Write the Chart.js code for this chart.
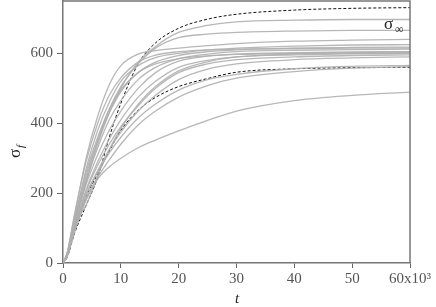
<!DOCTYPE html>
<html>
<head>
<meta charset="UTF-8">
<title>sigma_f vs t</title>
<style>
  body { margin: 0; background: #fff; }
  #wrap { width: 436px; height: 307px; }
</style>
<script src="https://cdn.jsdelivr.net/npm/chart.js"></script>
</head>
<body>
<div id="wrap"><canvas id="chart" width="436" height="307"></canvas></div>
<script>
// time in units of 10^3
const times = [0, 0.7, 2, 4, 6, 8, 10, 13, 16, 20, 25, 30, 40, 50, 60];
const xTicks = [0, 10, 20, 30, 40, 50, 60];
const yTicks = [0, 200, 400, 600];

// the two dashed (reference) curves
const dashedUpper = [0, 15, 85, 165, 245, 360, 457, 570, 630, 672, 698, 712, 724, 729, 731];
const dashedLower = [0, 18, 90, 190, 255, 320, 380, 437, 474, 505, 528, 546, 556, 559, 560];

// grey sample curves
const grey1  = [0, 22, 105, 230, 340, 430, 500, 575, 620, 660, 680, 690, 695, 697, 697];
const grey2  = [0, 22, 110, 240, 350, 440, 505, 570, 615, 645, 655, 660, 664, 666, 666];
const grey3  = [0, 28, 135, 300, 420, 510, 565, 598, 608, 615, 622, 628, 635, 638, 640];
const grey4  = [0, 25, 120, 270, 380, 460, 520, 565, 588, 600, 610, 615, 621, 624, 625];
const grey5  = [0, 25, 115, 250, 350, 430, 490, 545, 575, 594, 605, 610, 615, 617, 618];
const grey6  = [0, 22, 110, 235, 330, 410, 465, 525, 560, 585, 598, 605, 609, 611, 612];
const grey7  = [0, 22, 115, 225, 310, 380, 435, 500, 545, 578, 592, 598, 602, 604, 605];
const grey8  = [0, 20, 100, 210, 290, 355, 410, 475, 520, 560, 580, 590, 596, 599, 600];
const grey9  = [0, 20, 100, 205, 280, 340, 390, 450, 500, 545, 570, 582, 590, 594, 596];
const grey10 = [0, 20, 95, 195, 265, 325, 375, 435, 480, 525, 555, 570, 582, 587, 590];
const grey11 = [0, 25, 125, 260, 360, 440, 495, 545, 570, 585, 593, 597, 600, 601, 602];
const grey12 = [0, 20, 95, 195, 260, 315, 360, 415, 455, 495, 525, 540, 556, 563, 566];
const grey13 = [0, 18, 90, 185, 245, 295, 340, 395, 435, 475, 508, 529, 548, 558, 562];
const grey14 = [0, 18, 90, 180, 240, 275, 300, 330, 352, 378, 408, 435, 465, 480, 489];
const grey15 = [0, 28, 140, 290, 400, 480, 530, 575, 595, 605, 610, 612, 614, 615, 615];
const grey16 = [0, 20, 110, 165, 250, 325, 385, 455, 505, 550, 576, 590, 598, 602, 604];

const greys = [grey1, grey2, grey3, grey4, grey5, grey6, grey7, grey8,
               grey9, grey10, grey11, grey12, grey13, grey14, grey15, grey16];

function toPoints(vals) {
    return vals.map((v, i) => ({ x: times[i], y: v }));
}

const datasets = greys.map(g => ({
    data: toPoints(g),
    borderColor: 'rgba(175,175,175,0.9)',
    borderWidth: 1.3,
    pointRadius: 0,
    cubicInterpolationMode: 'monotone'
}));
datasets.push({
    data: toPoints(dashedUpper),
    borderColor: '#111',
    borderWidth: 1,
    borderDash: [3, 2],
    pointRadius: 0,
    cubicInterpolationMode: 'monotone'
});
datasets.push({
    data: toPoints(dashedLower),
    borderColor: '#111',
    borderWidth: 1,
    borderDash: [3, 2],
    pointRadius: 0,
    cubicInterpolationMode: 'monotone'
});

const serif = '"Liberation Serif", "DejaVu Serif", serif';

// frame around the plot + axis titles and the sigma_inf note
const decor = {
    id: 'decor',
    afterDraw(chart) {
        const { ctx, chartArea: a } = chart;
        ctx.save();
        ctx.strokeStyle = '#777';
        ctx.lineWidth = 1.5;
        ctx.beginPath();
        ctx.moveTo(a.left, a.top);
        ctx.lineTo(a.right, a.top);
        ctx.lineTo(a.right, a.bottom);
        ctx.stroke();

        ctx.fillStyle = '#222';
        // x title
        ctx.font = 'italic 15px ' + serif;
        ctx.textAlign = 'center';
        ctx.textBaseline = 'alphabetic';
        ctx.fillText('t', 237, 303);

        // y title, rotated
        ctx.translate(20, 158);
        ctx.rotate(-Math.PI / 2);
        ctx.font = '17px ' + serif;
        ctx.textAlign = 'left';
        ctx.fillText('σ', 0, 0);
        ctx.font = 'italic 11px ' + serif;
        ctx.fillText('f', 10, 4);
        ctx.setTransform(1, 0, 0, 1, 0, 0);

        // sigma infinity
        ctx.font = '17px ' + serif;
        ctx.fillText('σ', 384, 29);
        ctx.font = '12px ' + serif;
        ctx.fillText('∞', 395, 33);
        ctx.restore();
    }
};

new Chart(document.getElementById('chart'), {
    type: 'line',
    data: { datasets },
    options: {
        responsive: false,
        animation: false,
        layout: { autoPadding: false, padding: { top: 1, right: 26, left: 0, bottom: 0 } },
        plugins: { legend: { display: false }, tooltip: { enabled: false } },
        scales: {
            x: {
                type: 'linear',
                min: 0, max: 60,
                afterBuildTicks: s => { s.ticks = xTicks.map(v => ({ value: v })); },
                afterFit: s => { s.height = 44; s.paddingLeft = 0; s.paddingRight = 0; },
                ticks: {
                    color: '#555',
                    font: { family: serif, size: 15 },
                    padding: 2,
                    maxRotation: 0,
                    callback: v => v === 60 ? '60x10³' : String(v)
                },
                grid: { drawOnChartArea: false, tickLength: 5, color: '#666', lineWidth: 1 },
                border: { color: '#777', width: 1.5 }
            },
            y: {
                min: 0, max: 750,
                afterBuildTicks: s => { s.ticks = yTicks.map(v => ({ value: v })); },
                afterFit: s => { s.width = 63; s.paddingTop = 0; s.paddingBottom = 0; },
                ticks: {
                    color: '#555',
                    font: { family: serif, size: 15 },
                    padding: 4
                },
                grid: { drawOnChartArea: false, tickLength: 6, color: '#666', lineWidth: 1 },
                border: { color: '#777', width: 1.5 }
            }
        }
    },
    plugins: [decor]
});
</script>
</body>
</html>
